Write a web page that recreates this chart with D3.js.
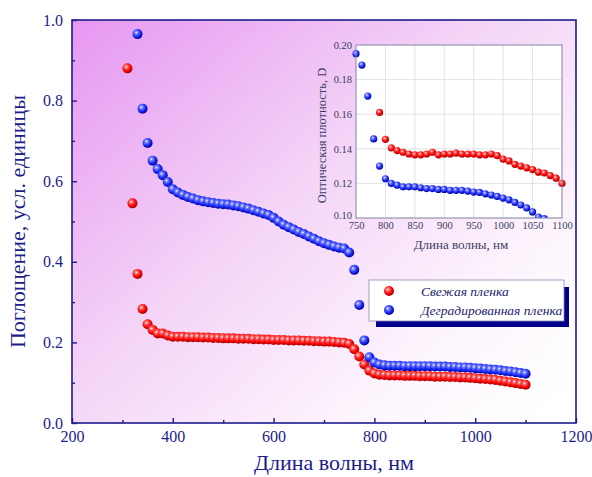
<!DOCTYPE html>
<html>
<head>
<meta charset="utf-8">
<script src="https://cdn.jsdelivr.net/npm/d3@7"></script>
<style>
  body { margin: 0; background: #fff; }
  svg { display: block; }
  text { font-family: "Liberation Serif", "DejaVu Serif", serif; }
</style>
</head>
<body>
<svg id="chart" width="592" height="477"></svg>
<script>
// main chart: absorption spectra, wavelength step 10 nm
const freshWl = [310,320,330,340,350,360,370,380,390,400,
  410,420,430,440,450,460,470,480,490,500,510,520,530,540,550,
  560,570,580,590,600,610,620,630,640,650,660,670,680,690,700,
  710,720,730,740,750,760,770,780,790,800,810,820,830,840,850,
  860,870,880,890,900,910,920,930,940,950,960,970,980,990,1000,
  1010,1020,1030,1040,1050,1060,1070,1080,1090,1100]
const freshAbs = [0.880,0.545,0.370,0.283,0.245,0.231,0.222,0.222,0.217,0.214,
  0.214,0.214,0.213,0.213,0.213,0.212,0.212,0.211,0.211,0.210,0.210,0.210,0.209,0.209,0.209,
  0.208,0.208,0.207,0.207,0.206,0.206,0.206,0.205,0.205,0.205,0.204,0.204,0.203,0.203,0.202,
  0.202,0.201,0.200,0.199,0.196,0.183,0.165,0.145,0.130,0.123,0.120,0.119,0.118,0.118,0.118,
  0.117,0.117,0.117,0.116,0.116,0.116,0.115,0.115,0.115,0.114,0.114,0.113,0.113,0.112,0.111,
  0.110,0.109,0.108,0.107,0.105,0.103,0.101,0.099,0.097,0.095]

const degrWl = [330,340,350,360,370,380,390,400,
  410,420,430,440,450,460,470,480,490,500,510,520,530,540,550,
  560,570,580,590,600,610,620,630,640,650,660,670,680,690,700,
  710,720,730,740,750,760,770,780,790,800,810,820,830,840,850,
  860,870,880,890,900,910,920,930,940,950,960,970,980,990,1000,
  1010,1020,1030,1040,1050,1060,1070,1080,1090,1100]
const degrAbs = [0.965,0.780,0.695,0.651,0.630,0.615,0.598,0.580,
  0.572,0.566,0.561,0.557,0.553,0.550,0.548,0.546,0.544,0.543,0.542,0.540,0.538,0.535,0.532,
  0.528,0.524,0.520,0.516,0.509,0.500,0.492,0.486,0.480,0.474,0.469,0.463,0.457,0.451,0.446,
  0.442,0.438,0.435,0.433,0.423,0.380,0.293,0.205,0.163,0.150,0.145,0.143,0.142,0.142,0.142,
  0.141,0.141,0.141,0.141,0.141,0.141,0.140,0.140,0.140,0.139,0.139,0.138,0.138,0.137,0.136,
  0.135,0.134,0.133,0.132,0.131,0.129,0.128,0.126,0.124,0.122]

// inset: optical density
const insetFreshWl = [790,800,810,820,830,840,850,860,870,880,890,900,910,920,930,940,950,
  960,970,980,990,1000,1010,1020,1030,1040,1050,1060,1070,1080,1090,1100]
const insetFreshD = [0.161,0.1455,0.1405,0.139,0.138,0.137,0.1365,0.1365,0.137,0.138,0.1365,0.137,0.137,0.1375,0.137,0.137,0.137,
  0.1365,0.1365,0.137,0.136,0.134,0.133,0.131,0.130,0.129,0.128,0.1265,0.126,0.1245,0.123,0.120]
const insetDegrWl = [750,760,770,780,790,800,810,820,830,840,850,860,870,880,890,900,910,920,
  930,940,950,960,970,980,990,1000,1010,1020,1030,1040,1050,1060,1070]
const insetDegrD = [0.195,0.1884,0.1705,0.1457,0.130,0.1227,0.120,0.119,0.118,0.118,0.118,0.1175,0.117,0.117,0.1165,0.1165,0.116,0.116,
  0.116,0.1155,0.115,0.1148,0.114,0.1133,0.1125,0.1115,0.1105,0.109,0.1075,0.1058,0.1035,0.1005,0.0996]

const xTicks = [200,400,600,800,1000,1200]
const xMinor = [300,500,700,900,1100]
const yTicks = [0.0,0.2,0.4,0.6,0.8,1.0]
const yMinor = [0.1,0.3,0.5,0.7,0.9]
const insetXTicks = [750,800,850,900,950,1000,1050,1100]
const insetYTicks = [0.10,0.12,0.14,0.16,0.18,0.20]
const legendLabels = ["Свежая пленка", "Деградированная пленка"]

const navy = "#1c1c8c"
const svg = d3.select("#chart")
const defs = svg.append("defs")

// background gradient inside the frame
const bg = defs.append("linearGradient").attr("id", "bg")
  .attr("x1", 0).attr("y1", 0).attr("x2", 1).attr("y2", 0.9)
bg.append("stop").attr("offset", 0).attr("stop-color", "#e697f2")
bg.append("stop").attr("offset", 0.45).attr("stop-color", "#f4d4f7")
bg.append("stop").attr("offset", 0.8).attr("stop-color", "#fdf5fd")
bg.append("stop").attr("offset", 1).attr("stop-color", "#ffffff")

// sphere-like markers
function ball(id, light, mid, dark) {
  const g = defs.append("radialGradient").attr("id", id)
    .attr("cx", "38%").attr("cy", "35%").attr("r", "65%")
  g.append("stop").attr("offset", 0).attr("stop-color", "#ffffff")
  g.append("stop").attr("offset", 0.22).attr("stop-color", light)
  g.append("stop").attr("offset", 0.6).attr("stop-color", mid)
  g.append("stop").attr("offset", 1).attr("stop-color", dark)
}
ball("redBall", "#ff7070", "#ff0a0a", "#a80000")
ball("blueBall", "#7c86ff", "#1f30ff", "#00009a")

const m = {left: 72, top: 20, right: 576, bottom: 423}
const x = d3.scaleLinear().domain([200, 1200]).range([m.left, m.right])
const y = d3.scaleLinear().domain([0, 1]).range([m.bottom, m.top])

svg.append("rect")
  .attr("x", m.left).attr("y", m.top)
  .attr("width", m.right - m.left).attr("height", m.bottom - m.top)
  .attr("fill", "url(#bg)")

// ---- inset ----
const ins = {left: 356, top: 45, right: 562, bottom: 218}
const ix = d3.scaleLinear().domain([750, 1100]).range([ins.left, ins.right])
const iy = d3.scaleLinear().domain([0.10, 0.20]).range([ins.bottom, ins.top])

svg.append("rect")
  .attr("x", ins.left).attr("y", ins.top)
  .attr("width", ins.right - ins.left).attr("height", ins.bottom - ins.top)
  .attr("fill", "#ffffff")

const grid = svg.append("g").attr("stroke", "#dadae4").attr("stroke-width", 0.8)
grid.selectAll(".gx").data(insetXTicks).join("line")
  .attr("x1", d => ix(d)).attr("x2", d => ix(d))
  .attr("y1", ins.top).attr("y2", ins.bottom)
grid.selectAll(".gy").data(insetYTicks).join("line")
  .attr("x1", ins.left).attr("x2", ins.right)
  .attr("y1", d => iy(d)).attr("y2", d => iy(d))

defs.append("clipPath").attr("id", "insetClip").append("rect")
  .attr("x", ins.left - 4).attr("y", ins.top - 4)
  .attr("width", ins.right - ins.left + 8).attr("height", ins.bottom - ins.top + 4)

const insetPts = svg.append("g").attr("clip-path", "url(#insetClip)")
insetPts.selectAll(".ir").data(d3.zip(insetFreshWl, insetFreshD)).join("circle")
  .attr("cx", d => ix(d[0])).attr("cy", d => iy(d[1])).attr("r", 3.6)
  .attr("fill", "url(#redBall)")
insetPts.selectAll(".ib").data(d3.zip(insetDegrWl, insetDegrD)).join("circle")
  .attr("cx", d => ix(d[0])).attr("cy", d => iy(d[1])).attr("r", 3.6)
  .attr("fill", "url(#blueBall)")

svg.append("rect")
  .attr("x", ins.left).attr("y", ins.top)
  .attr("width", ins.right - ins.left).attr("height", ins.bottom - ins.top)
  .attr("fill", "none").attr("stroke", "#8a8aa8").attr("stroke-width", 1)

const insetAxisX = svg.append("g")
  .attr("transform", `translate(0,${ins.bottom})`)
  .call(d3.axisBottom(ix).tickValues(insetXTicks).tickSize(0).tickPadding(4).tickFormat(d3.format("d")))
const insetAxisY = svg.append("g")
  .attr("transform", `translate(${ins.left},0)`)
  .call(d3.axisLeft(iy).tickValues(insetYTicks).tickSize(0).tickPadding(4).tickFormat(d3.format(".2f")))
for (const a of [insetAxisX, insetAxisY]) {
  a.select(".domain").remove()
  a.selectAll("text").attr("fill", "#3c3c64").attr("font-size", 10.5)
    .attr("font-family", "Liberation Serif, serif")
}
// lowest y label sits just above the corner, as in the source
insetAxisY.selectAll(".tick text").filter(d => d === 0.10).attr("dy", "0.05em")

svg.append("text")
  .attr("x", (ins.left + ins.right) / 2 + 2).attr("y", 249)
  .attr("text-anchor", "middle").attr("font-size", 13).attr("fill", "#3c3c64")
  .text("Длина волны, нм")
svg.append("text")
  .attr("transform", `translate(326,${(ins.top + ins.bottom) / 2 + 4}) rotate(-90)`)
  .attr("text-anchor", "middle").attr("font-size", 12.5).attr("fill", "#3c3c64")
  .text("Оптическая плотность, D")

// ---- legend ----
const lg = svg.append("g")
lg.append("rect").attr("x", 376).attr("y", 287).attr("width", 193).attr("height", 40)
  .attr("fill", "#00008c")
lg.append("rect").attr("x", 369).attr("y", 280).attr("width", 195).attr("height", 41)
  .attr("fill", "#ffffff").attr("stroke", "#8a8ab0").attr("stroke-width", 0.8)
const legendFills = ["url(#redBall)", "url(#blueBall)"]
legendLabels.forEach((t, i) => {
  lg.append("circle").attr("cx", 389).attr("cy", 291 + i * 19).attr("r", 5)
    .attr("fill", legendFills[i])
  lg.append("text").attr("x", 421).attr("y", 295.5 + i * 19)
    .attr("font-size", 13.5).attr("font-style", "italic").attr("fill", "#1c1c70")
    .text(t)
})

// ---- main data ----
svg.append("g").selectAll("circle").data(d3.zip(freshWl, freshAbs)).join("circle")
  .attr("cx", d => x(d[0])).attr("cy", d => y(d[1])).attr("r", 5)
  .attr("fill", "url(#redBall)")
svg.append("g").selectAll("circle").data(d3.zip(degrWl, degrAbs)).join("circle")
  .attr("cx", d => x(d[0])).attr("cy", d => y(d[1])).attr("r", 5)
  .attr("fill", "url(#blueBall)")

// ---- main frame and axes ----
svg.append("rect")
  .attr("x", m.left).attr("y", m.top)
  .attr("width", m.right - m.left).attr("height", m.bottom - m.top)
  .attr("fill", "none").attr("stroke", navy).attr("stroke-width", 1.6)

const xAxis = svg.append("g").attr("transform", `translate(0,${m.bottom})`)
  .call(d3.axisBottom(x).tickValues(xTicks).tickSize(-5).tickPadding(8).tickFormat(d3.format("d")))
const xAxisMinor = svg.append("g").attr("transform", `translate(0,${m.bottom})`)
  .call(d3.axisBottom(x).tickValues(xMinor).tickSize(-3).tickFormat(""))
const yAxis = svg.append("g").attr("transform", `translate(${m.left},0)`)
  .call(d3.axisLeft(y).tickValues(yTicks).tickSize(-5).tickPadding(9).tickFormat(d3.format(".1f")))
const yAxisMinor = svg.append("g").attr("transform", `translate(${m.left},0)`)
  .call(d3.axisLeft(y).tickValues(yMinor).tickSize(-3).tickFormat(""))
for (const a of [xAxis, xAxisMinor, yAxis, yAxisMinor]) {
  a.select(".domain").remove()
  a.selectAll("line").attr("stroke", navy).attr("stroke-width", 1.4)
  a.selectAll("text").attr("fill", navy).attr("font-size", 16)
    .attr("font-family", "Liberation Serif, serif")
}

svg.append("text")
  .attr("x", (m.left + m.right) / 2 + 10).attr("y", 470)
  .attr("text-anchor", "middle").attr("font-size", 22).attr("fill", navy)
  .text("Длина волны, нм")
svg.append("text")
  .attr("transform", `translate(25,${(m.top + m.bottom) / 2}) rotate(-90)`)
  .attr("text-anchor", "middle").attr("font-size", 22).attr("fill", navy)
  .text("Поглощение, усл. единицы")
</script>
</body>
</html>
